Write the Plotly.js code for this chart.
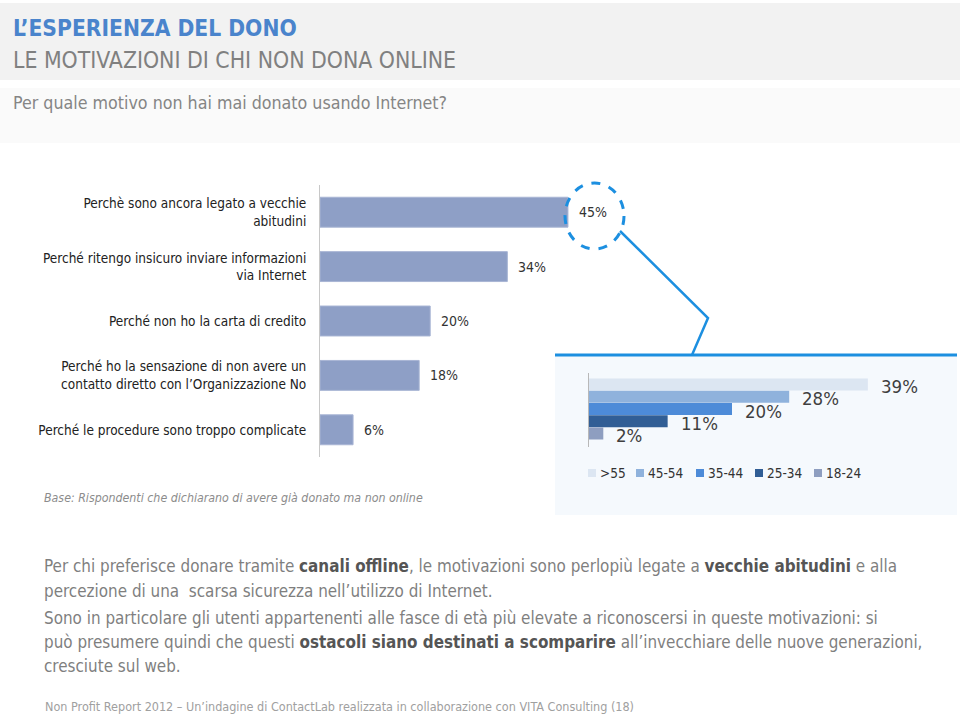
<!DOCTYPE html>
<html><head><meta charset="utf-8">
<script src="https://cdn.plot.ly/plotly-3.0.1.min.js"></script>
<style>html,body{margin:0;padding:0;background:#fff}#chart{width:960px;height:716px}</style>
</head><body><div id="chart"></div>
<script>
// ---- data ----
const reasons = [
  "Perchè sono ancora legato a vecchie<br>abitudini",
  "Perché ritengo insicuro inviare informazioni<br>via Internet",
  "Perché non ho la carta di credito",
  "Perché ho la sensazione di non avere un<br>contatto diretto con l’Organizzazione No",
  "Perché le procedure sono troppo complicate"
];
const reasonValues = [45, 34, 20, 18, 6];
const ageGroups = [">55", "45-54", "35-44", "25-34", "18-24"];
const ageValues = [39, 28, 20, 11, 2];

const titleText = "L’ESPERIENZA DEL DONO";
const subtitleText = "LE MOTIVAZIONI DI CHI NON DONA ONLINE";
const questionText = "Per quale motivo non hai mai donato usando Internet?";
const baseText = "Base: Rispondenti che dichiarano di avere già donato ma non online";
const bodyLines = [
  "Per chi preferisce donare tramite <b>canali offline</b>, le motivazioni sono perlopiù legate a <b>vecchie abitudini</b> e alla",
  "percezione di una  scarsa sicurezza nell’utilizzo di Internet.",
  "Sono in particolare gli utenti appartenenti alle fasce di età più elevate a riconoscersi in queste motivazioni: si",
  "può presumere quindi che questi <b>ostacoli siano destinati a scomparire</b> all’invecchiare delle nuove generazioni,",
  "cresciute sul web."
];
const footerText = "Non Profit Report 2012 – Un’indagine di ContactLab realizzata in collaborazione con VITA Consulting (18)";

// ---- styles ----
const FONT = "'Liberation Sans Narrow','DejaVu Sans Condensed','Open Sans',sans-serif";
const ageColors = ["#dce6f2", "#8fb2dc", "#4d8bd8", "#315e95", "#8e9ec0"];
const W = 960, H = 716;
const px = x => x / W;
const py = y => 1 - y / H;

const traces = [
  {
    type: "bar", orientation: "h",
    x: reasonValues, y: reasons,
    xaxis: "x", yaxis: "y",
    width: 0.55,
    marker: {color: "#8e9fc6", line: {color: "#a8b5d4", width: 1}},
    hoverinfo: "skip", showlegend: false
  },
  {
    type: "bar", orientation: "h",
    x: ageValues, y: ageGroups,
    xaxis: "x2", yaxis: "y2",
    width: 0.97,
    marker: {color: ageColors},
    hoverinfo: "skip", showlegend: false
  }
];

const annotations = [];
const txt = (x, y, text, size, color, extra) => Object.assign({
  xref: "paper", yref: "paper", x: px(x), y: py(y), text: text,
  showarrow: false, xanchor: "left", yanchor: "middle",
  font: {family: FONT, size: size, color: color}
}, extra || {});

annotations.push(txt(11, 28, "<b>" + titleText + "</b>", 22.6, "#4a84cc"));
annotations.push(txt(11, 60, subtitleText, 22.8, "#808080"));
annotations.push(txt(11, 103, questionText, 17.7, "#858585"));
annotations.push(txt(42, 498, "<i>" + baseText + "</i>", 12.3, "#8c8c8c"));
const bodyY = [566, 591, 618, 642, 666];
bodyLines.forEach((l, i) => {
  const t = l.replace(/<b>(.*?)<\/b>/g, '<span style="color:#555555"><b>$1</b></span>');
  annotations.push(txt(42, bodyY[i], t, 16.9, "#7f7f7f"));
});
annotations.push(txt(43, 706, footerText, 12.5, "#a0a0a0"));

// value labels (main)
reasonValues.forEach((v, i) => {
  annotations.push({
    xref: "x", yref: "y", x: v, y: reasons[i], text: v + "%",
    showarrow: false, xanchor: "left", yanchor: "middle", xshift: 9,
    font: {family: FONT, size: 14, color: "#333333"}
  });
});
// value labels (inset)
ageValues.forEach((v, i) => {
  annotations.push({
    xref: "x2", yref: "y2", x: v, y: ageGroups[i], text: v + "%",
    showarrow: false, xanchor: "left", yanchor: "middle", xshift: 11, yshift: -2,
    font: {family: FONT, size: 18.5, color: "#3f3f3f"}
  });
});

const shapes = [
  {type: "rect", xref: "paper", yref: "paper", x0: 0, x1: 1, y0: py(80), y1: py(3), fillcolor: "#f2f2f2", line: {width: 0}, layer: "below"},
  {type: "rect", xref: "paper", yref: "paper", x0: 0, x1: 1, y0: py(143), y1: py(88), fillcolor: "#fafafa", line: {width: 0}, layer: "below"},
  {type: "rect", xref: "paper", yref: "paper", x0: px(555), x1: px(957), y0: py(515), y1: py(356), fillcolor: "#f5f9fd", line: {width: 0}, layer: "below"},
  {type: "line", xref: "paper", yref: "paper", x0: px(555), x1: px(957), y0: py(355), y1: py(355), line: {color: "#1c8fe0", width: 3}},
  {type: "path", xref: "paper", yref: "paper",
   path: `M ${px(620)},${py(231)} L ${px(708)},${py(318)} L ${px(692)},${py(355)}`,
   line: {color: "#1c8fe0", width: 2.5}},
  {type: "circle", xref: "paper", yref: "paper", x0: px(565), x1: px(624), y0: py(249), y1: py(183),
   line: {color: "#1c8fe0", width: 3, dash: "dash"}, fillcolor: "rgba(0,0,0,0)"}
];

// inset legend
const legendX = [588, 636, 696, 755, 814];
ageGroups.forEach((g, i) => {
  shapes.push({type: "rect", xref: "paper", yref: "paper",
    x0: px(legendX[i]), x1: px(legendX[i] + 8), y0: py(477), y1: py(469),
    fillcolor: ageColors[i], line: {width: 0}});
  annotations.push(txt(legendX[i] + 10, 473, g, 13.5, "#333333"));
});

const layout = {
  width: W, height: H,
  margin: {l: 0, r: 0, t: 0, b: 0},
  paper_bgcolor: "#ffffff", plot_bgcolor: "rgba(0,0,0,0)",
  showlegend: false,
  font: {family: FONT},
  xaxis: {domain: [px(320), px(320 + 60 * 5.51)], range: [0, 60], visible: false, fixedrange: true},
  yaxis: {domain: [py(457), py(185)], type: "category", autorange: "reversed",
    showline: true, linecolor: "#c8c8c8", linewidth: 1, showgrid: false, zeroline: false,
    ticks: "outside", ticklen: 10, tickcolor: "rgba(0,0,0,0)",
    tickfont: {family: FONT, size: 13.5, color: "#222222"}, fixedrange: true},
  xaxis2: {domain: [px(589), px(589 + 50 * 7.15)], range: [0, 50], anchor: "y2", visible: false, fixedrange: true},
  yaxis2: {domain: [py(447), py(373)], type: "category", range: [5.1, -0.94], anchor: "x2",
    showline: true, linecolor: "#b8b8b8", linewidth: 1, showgrid: false, zeroline: false,
    showticklabels: false, ticks: "", fixedrange: true},
  annotations: annotations,
  shapes: shapes
};

Plotly.newPlot("chart", traces, layout, {displayModeBar: false, staticPlot: true});
</script>
</body></html>
